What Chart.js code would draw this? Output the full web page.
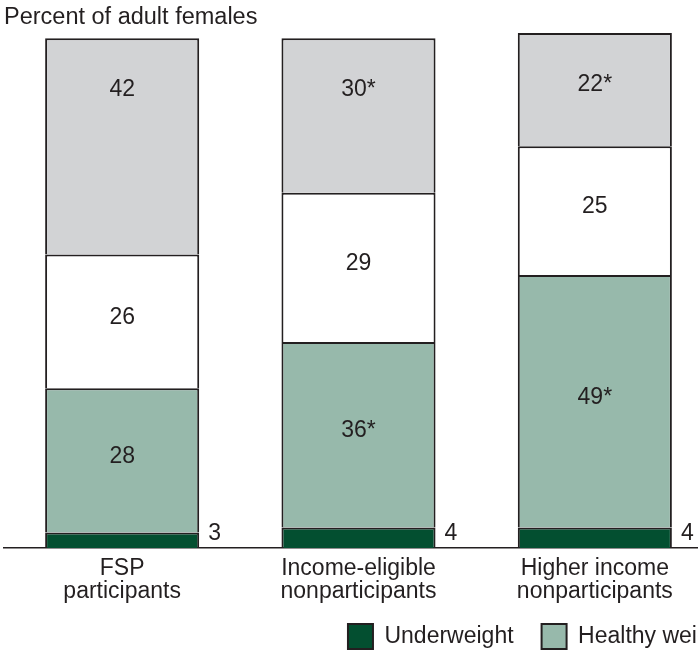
<!DOCTYPE html>
<html><head><meta charset="utf-8">
<script src="https://cdn.jsdelivr.net/npm/chart.js@4.4.1/dist/chart.umd.min.js"></script>
<style>html,body{margin:0;padding:0;overflow:hidden;background:#fff;width:698px;height:653px}canvas{display:block}</style>
</head><body>
<canvas id="c" width="1386" height="659" style="width:1386px;height:659px"></canvas>
<script>
// ---- data ----
const categories = [["FSP", "participants"], ["Income-eligible", "nonparticipants"], ["Higher income", "nonparticipants"]];
const seriesNames = ["Underweight", "Healthy weight", "Overweight", "Obese"];
const underweight = [3, 4, 4];
const healthyWeight = [28, 36, 49];
const overweight = [26, 29, 25];
const obese = [42, 30, 22];
const underweightMarks = ["", "", ""];
const healthyMarks = ["", "*", "*"];
const overweightMarks = ["", "", ""];
const obeseMarks = ["", "*", "*"];
const yRange = [0, 100];
const titleText = "Percent of adult females";

// ---- style ----
const FONT = '"Liberation Sans", Arial, Helvetica, sans-serif';
const INK = '#231f20';
const colors = ['#034f30', '#97b9ab', '#ffffff', '#d2d3d5'];

const valueLabels = {
  id: 'valueLabels',
  afterDatasetsDraw(chart) {
    const ctx = chart.ctx;
    ctx.save();
    ctx.font = '23px ' + FONT;
    ctx.fillStyle = INK;
    ctx.textBaseline = 'middle';
    chart.data.datasets.forEach((ds, di) => {
      const meta = chart.getDatasetMeta(di);
      meta.data.forEach((bar, i) => {
        const p = bar.getProps(['x', 'y', 'base', 'width'], true);
        const text = String(ds.data[i]) + ds.marks[i];
        if (ds.role === 'side') {
          ctx.textAlign = 'left';
          ctx.fillText(text, p.x + p.width / 2 + 9, p.base - 14);
        } else if (ds.role === 'top') {
          ctx.textAlign = 'center';
          ctx.fillText(text, p.x, p.y + 52);
        } else {
          ctx.textAlign = 'center';
          ctx.fillText(text, p.x, (p.y + p.base) / 2 - 4);
        }
      });
    });
    ctx.restore();
  }
};

// let the two-line category labels run below the axis box without being clipped
const labelRoom = {
  id: 'labelRoom',
  afterLayout(chart) {
    const s = chart.scales.x;
    s.bottom = s.top + 62;
  }
};

function ds(i, data, marks, role) {
  return {
    label: seriesNames[i], data, marks, role,
    backgroundColor: colors[i], borderColor: INK, borderWidth: 2,
    borderSkipped: 'start',
    barPercentage: 0.652, categoryPercentage: 1.0
  };
}

new Chart(document.getElementById('c'), {
  type: 'bar',
  data: {
    labels: categories,
    datasets: [
      ds(0, underweight, underweightMarks, 'side'),
      ds(1, healthyWeight, healthyMarks, 'mid'),
      ds(2, overweight, overweightMarks, 'mid'),
      ds(3, obese, obeseMarks, 'top')
    ]
  },
  options: {
    responsive: false,
    animation: false,
    devicePixelRatio: 1,
    layout: { padding: { left: 4, right: 0, top: 0, bottom: 0 } },
    plugins: {
      title: {
        display: true, text: titleText, align: 'start', color: INK,
        font: { family: FONT, size: 23.5, weight: 'normal', lineHeight: 1.2 },
        padding: { top: 3, bottom: 1.8 }
      },
      legend: {
        display: true, position: 'bottom', align: 'center',
        labels: {
          color: INK, boxWidth: 25, boxHeight: 25, padding: 28,
          font: { family: FONT, size: 23 }
        }
      },
      tooltip: { enabled: false }
    },
    scales: {
      x: {
        stacked: true,
        grid: { display: false, drawTicks: false },
        border: { display: true, color: INK, width: 1.5 },
        ticks: { color: INK, padding: 9, maxRotation: 0, autoSkip: false,
                 font: { family: FONT, size: 23, lineHeight: 1.0 } },
        afterFit: (s) => { s.height = 48; }
      },
      y: {
        stacked: true, display: false, min: yRange[0], max: yRange[1]
      },
      yPad: {
        type: 'linear', position: 'right', display: true,
        grid: { display: false, drawTicks: false }, border: { display: false },
        ticks: { display: false },
        afterFit: (s) => { s.width = 1386 - 713; }
      }
    }
  },
  plugins: [valueLabels, labelRoom]
});
</script>
</body></html>
